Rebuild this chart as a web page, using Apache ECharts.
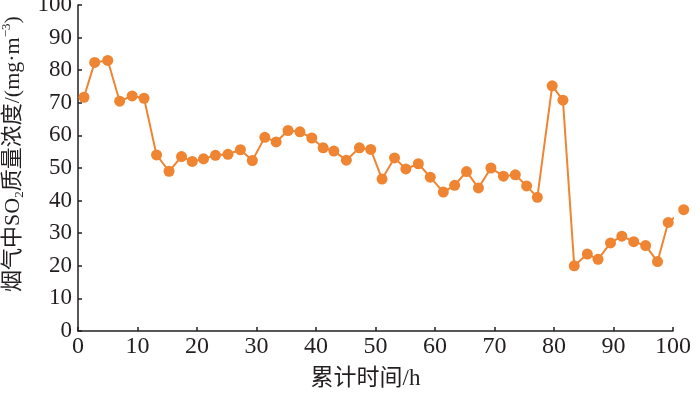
<!DOCTYPE html>
<html>
<head>
<meta charset="utf-8">
<script src="https://cdn.jsdelivr.net/npm/echarts@6/dist/echarts.min.js"></script>
<style>
html,body{margin:0;padding:0;background:#fff;}
#c{width:700px;height:395px;}
</style>
</head>
<body>
<div id="c"></div>
<script>
// Data
var hours = [1.0, 2.8, 5.0, 7.0, 9.1, 11.1, 13.2, 15.3, 17.4, 19.2, 21.1, 23.1, 25.2, 27.3, 29.3,
  31.4, 33.3, 35.3, 37.3, 39.3, 41.2, 43.0, 45.1, 47.3, 49.2, 51.1, 53.2, 55.1, 57.2, 59.2,
  61.4, 63.3, 65.3, 67.3, 69.4, 71.5, 73.5, 75.4, 77.2, 79.7, 81.5, 83.4, 85.6, 87.4, 89.5,
  91.4, 93.4, 95.4, 97.4, 99.2, 101.8];
var so2 = [71.7, 82.4, 83.0, 70.5, 72.1, 71.4, 54.0, 49.0, 53.5, 52.0, 52.8, 53.9, 54.2, 55.6, 52.3,
  59.4, 58.0, 61.5, 61.1, 59.2, 56.2, 55.2, 52.4, 56.2, 55.7, 46.6, 53.1, 49.7, 51.3, 47.2,
  42.6, 44.7, 48.9, 43.9, 50.0, 47.5, 47.9, 44.5, 41.0, 75.2, 70.8, 20.0, 23.6, 22.0, 27.0,
  29.1, 27.4, 26.2, 21.3, 33.3, 37.2];
var xTicks = {min: 0, max: 100, interval: 10};
var yTicks = {min: 0, max: 100, interval: 10};
var xName = '累计时间/h';
var yNameParts = ['烟气中SO', '2', '质量浓度/(mg·m', '−3', ')'];

var pts = hours.map(function (h, i) { return [h, so2[i]]; });
var serif = '"Liberation Serif", "Times New Roman", "Noto Sans CJK SC", serif';
var ink = '#231f20';

var chart = echarts.init(document.getElementById('c'), null, {renderer: 'canvas'});
chart.setOption({
  animation: false,
  backgroundColor: '#ffffff',
  grid: {left: 78, right: 27, top: 5, bottom: 64, containLabel: false, outerBoundsMode: 'none'},
  xAxis: {
    type: 'value',
    min: xTicks.min, max: xTicks.max, interval: xTicks.interval,
    name: xName,
    nameLocation: 'middle',
    nameGap: 36,
    nameTextStyle: {fontFamily: serif, fontSize: 23, color: ink, padding: [0, 20, 0, 0]},
    axisLine: {show: true, lineStyle: {color: ink, width: 1.5}},
    axisTick: {show: true, inside: true, length: 4, lineStyle: {color: ink, width: 1.5}},
    axisLabel: {fontFamily: serif, fontSize: 24, color: ink, margin: 4},
    splitLine: {show: false}
  },
  yAxis: {
    type: 'value',
    min: yTicks.min, max: yTicks.max, interval: yTicks.interval,
    name: '{a|' + yNameParts[0] + '}{sub|' + yNameParts[1] + '}{a|' + yNameParts[2] + '}{sup|' + yNameParts[3] + '}{a|' + yNameParts[4] + '}',
    nameLocation: 'middle',
    nameGap: 52,
    nameRotate: 90,
    nameTextStyle: {
      fontFamily: serif, fontSize: 22, color: ink, padding: [0, 0, 0, 28],
      rich: {
        a: {fontFamily: serif, fontSize: 22, color: ink, lineHeight: 26},
        sub: {fontFamily: serif, fontSize: 13, color: ink, verticalAlign: 'bottom', lineHeight: 26},
        sup: {fontFamily: serif, fontSize: 13, color: ink, verticalAlign: 'top', lineHeight: 26}
      }
    },
    axisLine: {show: true, lineStyle: {color: ink, width: 1.5}},
    axisTick: {show: true, inside: true, length: 4, lineStyle: {color: ink, width: 1.5}},
    axisLabel: {fontFamily: serif, fontSize: 23, color: ink, margin: 6, padding: [4, 0, 0, 0]},
    splitLine: {show: false}
  },
  series: [{
    type: 'line',
    data: pts,
    clip: false,
    symbol: 'circle',
    symbolSize: 11,
    showSymbol: true,
    itemStyle: {color: '#ef8532', borderWidth: 0},
    lineStyle: {color: '#ef8532', width: 2}
  }]
});
</script>
</body>
</html>
